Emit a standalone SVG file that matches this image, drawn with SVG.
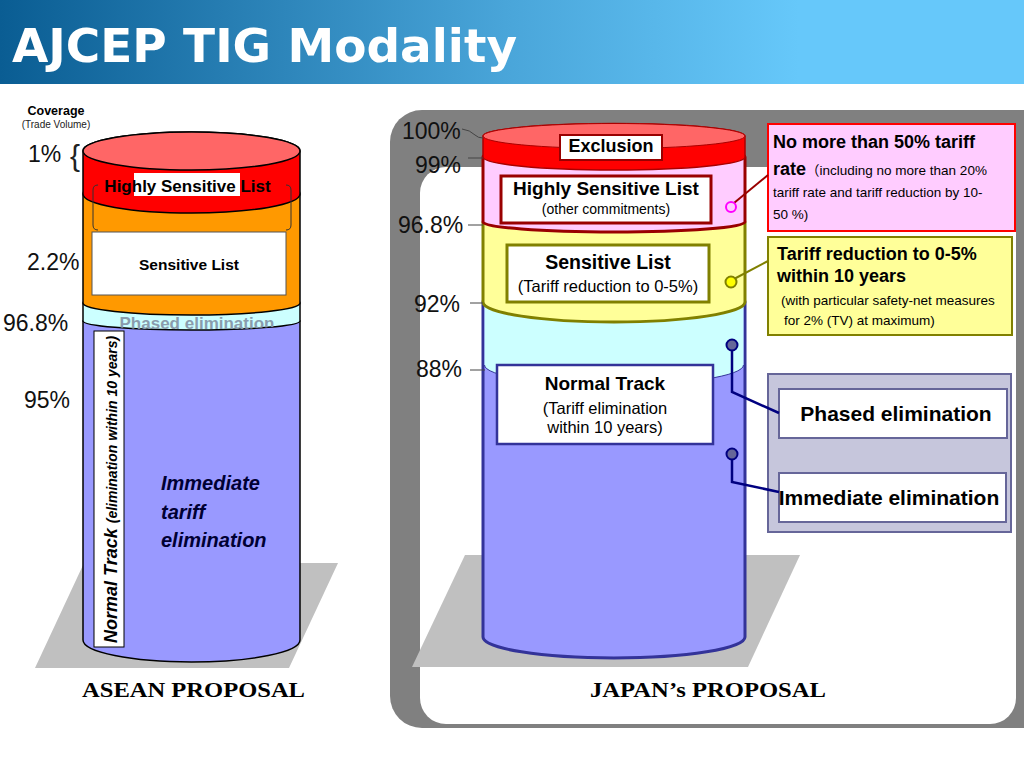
<svg xmlns="http://www.w3.org/2000/svg" width="1024" height="768" viewBox="0 0 1024 768">
<defs>
<linearGradient id="hdr" x1="0" y1="0" x2="1" y2="0">
<stop offset="0" stop-color="#0a5d93"/>
<stop offset="0.5" stop-color="#4aa6da"/>
<stop offset="0.78" stop-color="#66c8fa"/>
<stop offset="1" stop-color="#66c8fa"/>
</linearGradient>
<clipPath id="aboveBlue">
<path d="M83,290 V321 A108.5 9 0 0 0 300,321 V290 Z"/>
</clipPath>
<style>
text{font-family:"Liberation Sans",Arial,sans-serif;fill:#000}
.b{font-weight:bold}
.pct{font-size:23px;fill:#111}
.lead{stroke:#444;stroke-width:1;fill:none}
.serif{font-family:"Liberation Serif","Times New Roman",serif;font-weight:bold;font-size:21px}
.conn{stroke:#000080;stroke-width:2.5;fill:none}
.dot{fill:#666699;stroke:#000080;stroke-width:2}
</style>
</defs>

<g id="header">
<rect x="0" y="0" width="1024" height="84" fill="url(#hdr)"/>
<text x="12" y="62" font-weight="bold" font-size="47" style="fill:#fff;font-family:'DejaVu Sans Condensed','DejaVu Sans',sans-serif" textLength="505" lengthAdjust="spacingAndGlyphs">AJCEP TIG Modality</text>
</g>

<g id="japan-frame">
<rect x="390" y="110" width="670" height="618" rx="32" fill="#808080"/>
<rect x="420" y="167" width="596" height="557" rx="26" fill="#fff"/>
</g>

<g id="shadows">
<polygon points="84,563 338,563 289,668 35,668" fill="#c0c0c0"/>
<polygon points="465,555 800,555 748,667 412,667" fill="#c0c0c0"/>
</g>

<g id="coverage-labels">
<text x="56" y="115" text-anchor="middle" class="b" font-size="12.5">Coverage</text>
<text x="56" y="128" text-anchor="middle" font-size="10" style="fill:#222">(Trade Volume)</text>
<text x="28" y="162" class="pct">1%</text>
<text x="70" y="166" font-size="30" style="fill:#222">{</text>
<text x="27" y="270" class="pct">2.2%</text>
<text x="3" y="331" class="pct">96.8%</text>
<text x="24" y="408" class="pct">95%</text>
</g>

<g id="asean-cylinder" stroke="#000" stroke-width="1.5">
<path d="M83,321 V640 A108.5 22 0 0 0 300,640 V321 A108.5 9 0 0 0 83,321 Z" fill="#9999ff"/>
<path d="M83,303 V321 A108.5 9 0 0 0 300,321 V303 A108.5 12 0 0 0 83,303 Z" fill="#ccffff"/>
<path d="M83,194 V303 A108.5 12 0 0 0 300,303 V194 A108.5 19 0 0 0 83,194 Z" fill="#ff9900"/>
<path d="M83,151 V194 A108.5 19 0 0 0 300,194 V151 A108.5 19 0 0 0 83,151 Z" fill="#ff0000"/>
<ellipse cx="191.5" cy="151" rx="108.5" ry="19" fill="#ff6666"/>
</g>

<g id="asean-phased">
<text x="197" y="329" text-anchor="middle" class="b" font-size="17" clip-path="url(#aboveBlue)" style="fill:#8a9cad">Phased elimination</text>
</g>

<g id="asean-hsl">
<path d="M98,185 Q93,185 93,190 V225 Q93,230 98,230" fill="none" stroke="#333" stroke-width="1"/>
<path d="M286,185 Q291,185 291,190 V225 Q291,230 286,230" fill="none" stroke="#333" stroke-width="1"/>
<rect x="134" y="173" width="106" height="23" fill="#fff"/>
<text x="187.5" y="192" text-anchor="middle" class="b" font-size="17">Highly Sensitive List</text>
</g>

<g id="asean-sensitive">
<rect x="92" y="232" width="194" height="63" fill="#fff" stroke="#555" stroke-width="1"/>
<text x="189" y="270" text-anchor="middle" class="b" font-size="15.5">Sensitive List</text>
</g>

<g id="asean-normal-track">
<rect x="94" y="331" width="30" height="316" fill="#fff" stroke="#000" stroke-width="1"/>
<text transform="translate(117,643) rotate(-90)" class="b" font-style="italic" font-size="18">Normal Track <tspan font-size="14">(elimination within 10 years)</tspan></text>
</g>

<g id="asean-immediate">
<text x="161" y="490" class="b" font-style="italic" font-size="20" style="fill:#000033">Immediate</text>
<text x="161" y="519" class="b" font-style="italic" font-size="20" style="fill:#000033">tariff</text>
<text x="161" y="547" class="b" font-style="italic" font-size="20" style="fill:#000033">elimination</text>
</g>

<g id="asean-title">
<text x="82" y="697" class="serif" textLength="223" lengthAdjust="spacingAndGlyphs">ASEAN PROPOSAL</text>
</g>

<g id="japan-cylinder">
<path d="M483,302 V637 A131 21 0 0 0 745,637 V302 A131 20 0 0 0 483,302 Z" fill="#9999ff" stroke="#333399" stroke-width="3"/>
<path d="M484.5,302 V365 A129.5 20 0 0 0 743.5,365 V302 A129.5 20 0 0 0 484.5,302 Z" fill="#ccffff" stroke="none"/>
<path d="M484.5,365 A129.5 20 0 0 0 743.5,365" fill="none" stroke="#333399" stroke-width="1"/>
<path d="M483,222 V302 A131 20 0 0 0 745,302 V222 A131 10 0 0 0 483,222 Z" fill="#ffff99" stroke="#808000" stroke-width="3"/>
<path d="M483,157 V222 A131 10 0 0 0 745,222 V157 A131 13 0 0 0 483,157 Z" fill="#ffccff" stroke="#990000" stroke-width="3"/>
<path d="M483,136 V157 A131 13 0 0 0 745,157 V136 A131 12.5 0 0 0 483,136 Z" fill="#ff0000" stroke="#aa0000" stroke-width="1.5"/>
<ellipse cx="614" cy="136" rx="131" ry="12.5" fill="#ff6666" stroke="#aa0000" stroke-width="1"/>
</g>

<g id="japan-pct">
<text x="402" y="139" class="pct">100%</text>
<path class="lead" d="M462,129 Q470,130 475,135 Q478,138 483,138"/>
<text x="415" y="173" class="pct">99%</text>
<path class="lead" d="M468,158 H483"/>
<text x="398" y="233" class="pct">96.8%</text>
<path class="lead" d="M468,225 H483"/>
<text x="414" y="312" class="pct">92%</text>
<path class="lead" d="M470,303 H483"/>
<text x="416" y="377" class="pct">88%</text>
<path class="lead" d="M470,370 H485"/>
</g>

<g id="japan-exclusion">
<rect x="560" y="135" width="102" height="25" fill="#fff" stroke="#990000" stroke-width="2"/>
<text x="611" y="152" text-anchor="middle" class="b" font-size="18">Exclusion</text>
</g>

<g id="japan-hsl">
<rect x="501" y="176" width="210" height="47" fill="#fff" stroke="#990000" stroke-width="3"/>
<text x="606" y="195" text-anchor="middle" class="b" font-size="19">Highly Sensitive List</text>
<text x="606" y="214" text-anchor="middle" font-size="14">(other commitments)</text>
</g>

<g id="japan-sensitive">
<rect x="507" y="245" width="202" height="57" fill="#fff" stroke="#808000" stroke-width="3"/>
<text x="608" y="269" text-anchor="middle" class="b" font-size="19.5">Sensitive List</text>
<text x="608" y="292" text-anchor="middle" font-size="16.5">(Tariff reduction to 0-5%)</text>
</g>

<g id="japan-normal-track">
<rect x="497" y="365" width="216" height="79" fill="#fff" stroke="#333399" stroke-width="2.5"/>
<text x="605" y="390" text-anchor="middle" class="b" font-size="19">Normal Track</text>
<text x="605" y="414" text-anchor="middle" font-size="16.5">(Tariff elimination</text>
<text x="605" y="433" text-anchor="middle" font-size="16.5">within 10 years)</text>
</g>

<g id="japan-title">
<text x="590" y="697" class="serif" textLength="236" lengthAdjust="spacingAndGlyphs">JAPAN’s PROPOSAL</text>
</g>

<g id="note-hsl">
<rect x="768" y="124" width="247" height="107" fill="#ffccff" stroke="#ff0000" stroke-width="2"/>
<text x="773" y="148" class="b" font-size="18">No more than 50% tariff</text>
<text x="773" y="175" style="font-family:'Liberation Sans','Noto Sans CJK JP',sans-serif"><tspan class="b" font-size="18">rate</tspan><tspan font-size="13.5">（including no more than 20%</tspan></text>
<text x="773" y="197" font-size="13.5">tariff rate and tariff reduction by 10-</text>
<text x="773" y="219" font-size="13.5">50 %)</text>
</g>

<g id="note-sensitive">
<rect x="768" y="237" width="244" height="98" fill="#ffff99" stroke="#808000" stroke-width="2"/>
<text x="777" y="260" class="b" font-size="18">Tariff reduction to 0-5%</text>
<text x="777" y="282" class="b" font-size="18">within 10 years</text>
<text x="781" y="305" font-size="13.5">(with particular safety-net measures</text>
<text x="784" y="325" font-size="13.5">for 2% (TV) at maximum)</text>
</g>

<g id="elimination-panel">
<rect x="768" y="374" width="243" height="158" fill="#c6c6dc" stroke="#666699" stroke-width="2"/>
</g>
<g id="phased-elimination">
<rect x="779" y="389" width="228" height="49" fill="#fff" stroke="#666699" stroke-width="2"/>
<text x="896" y="421" text-anchor="middle" class="b" font-size="21">Phased elimination</text>
</g>
<g id="immediate-elimination">
<rect x="779" y="473" width="227" height="49" fill="#fff" stroke="#666699" stroke-width="2"/>
<text x="889" y="505" text-anchor="middle" class="b" font-size="21">Immediate elimination</text>
</g>

<g id="connectors">
<path d="M734,203 L768,175" stroke="#990000" stroke-width="2" fill="none"/>
<circle cx="731" cy="207" r="5" fill="#ffccff" stroke="#ff00ff" stroke-width="2"/>
<path d="M734,279 L768,261" stroke="#808000" stroke-width="2" fill="none"/>
<circle cx="731" cy="282" r="5.5" fill="#ffff00" stroke="#808000" stroke-width="2"/>
<path class="conn" d="M732,345 V392 L779,413"/>
<circle class="dot" cx="732" cy="345" r="5.5"/>
<path class="conn" d="M732,454 V482 L779,492"/>
<circle class="dot" cx="732" cy="454" r="5.5"/>
</g>
</svg>
